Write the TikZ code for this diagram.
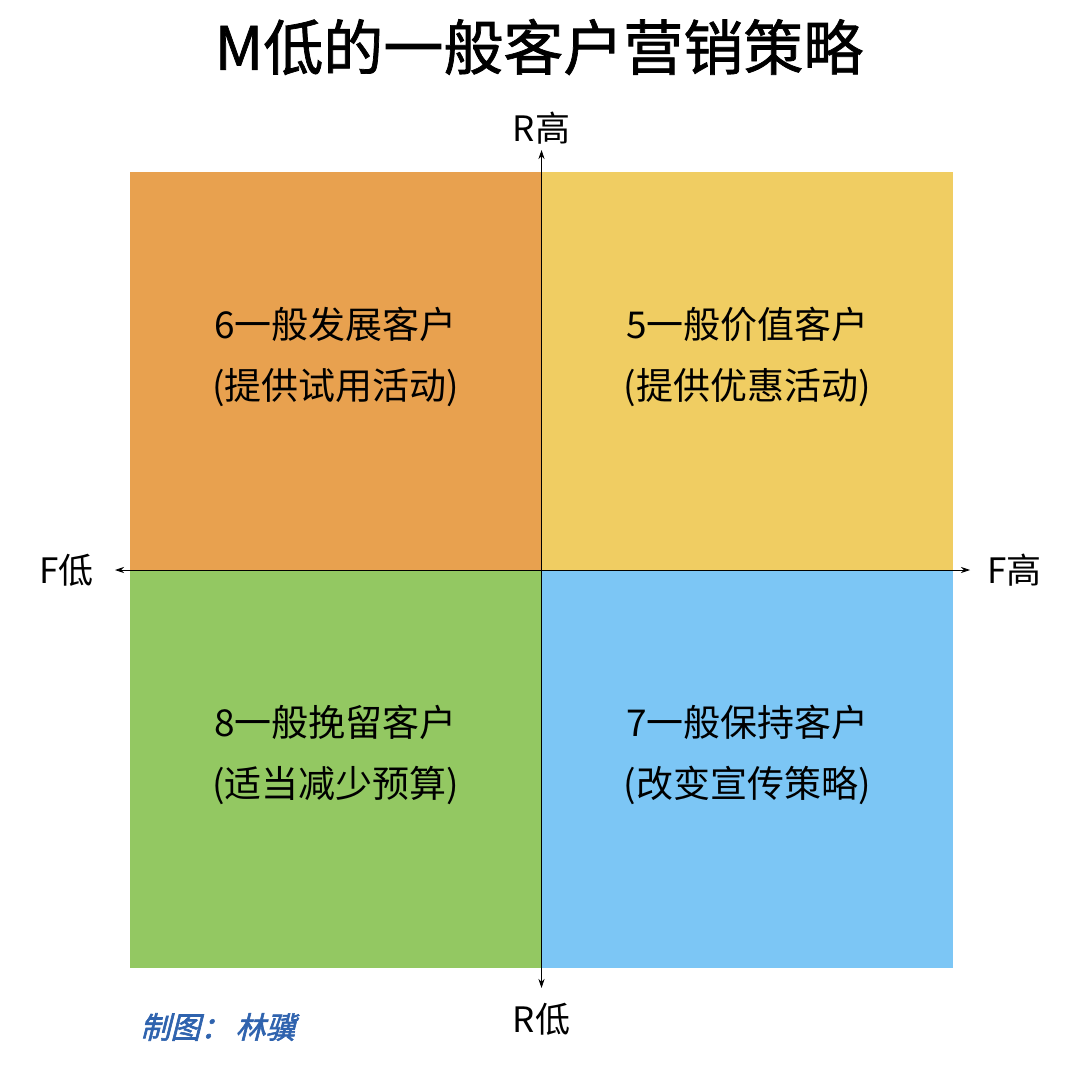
\documentclass[tikz,border=0pt]{standalone}
\usepackage{fontspec}
\newfontfamily\cjk{Noto Sans CJK SC}
\newfontfamily\cjktitle[FakeBold=1.2]{Noto Sans CJK SC}
\newfontfamily\cjksig[FakeSlant=0.25,FakeBold=2]{Noto Sans CJK SC}
\usetikzlibrary{arrows.meta, positioning}
\definecolor{qorange}{HTML}{E8A14F}
\definecolor{qyellow}{HTML}{F0CD62}
\definecolor{qgreen}{HTML}{93C862}
\definecolor{qblue}{HTML}{7CC6F5}
\definecolor{sigblue}{HTML}{2F63AE}

\begin{document}
\begin{tikzpicture}[
		x=1pt, y=-1pt,
		quad/.style={inner sep=0pt, minimum width=411.5pt, minimum height=398pt},
		qtext/.style={align=center, font=\cjk\fontsize{37}{61}\selectfont},
		lbl/.style={font=\cjk\fontsize{35}{38}\selectfont},
		axis/.style={{Stealth[length=9pt, width=6pt]}-{Stealth[length=9pt, width=6pt]}, thick},
		>=Stealth
		]
		\useasboundingbox (0,0) rectangle (1080,1078);
		% Title
		\node[font=\cjktitle\fontsize{60}{64}\selectfont] (title) at (539,47) {M低的一般客户营销策略};
		
		% Quadrants
		\coordinate (o) at (541.5,570);
		\node[quad, fill=qorange, anchor=south east] (nw) at (o) {};
		\node[quad, fill=qyellow, anchor=south west] (ne) at (o) {};
		\node[quad, fill=qgreen, anchor=north east] (sw) at (o) {};
		\node[quad, fill=qblue, anchor=north west] (se) at (o) {};
		
		% Quadrant texts
		\node[qtext] (nwt) at ([yshift=14pt]nw.center) {6一般发展客户\\(提供试用活动)};
		\node[qtext] (net) at ([yshift=14pt]ne.center) {5一般价值客户\\(提供优惠活动)};
		\node[qtext] (swt) at ([yshift=14pt]sw.center) {8一般挽留客户\\(适当减少预算)};
		\node[qtext] (set) at ([yshift=14pt]se.center) {7一般保持客户\\(改变宣传策略)};
		
		% Axes
		\coordinate (fl) at (115,570);
		\coordinate (fh) at (970,570);
		\coordinate (rh) at (541.5,150);
		\coordinate (rl) at (541.5,988);
		\draw[axis] (fl) -- (fh);
		\draw[axis] (rl) -- (rh);
		\node[lbl, left=18pt of fl] (flt) {F低};
		\node[lbl, right=14pt of fh] (fht) {F高};
		\node[lbl, above=2pt of rh] (rht) {R高};
		\node[lbl, below=12pt of rl] (rlt) {R低};
		
		% Credit
		\node[font=\cjksig\fontsize{30}{32}\selectfont, text=sigblue] (credit) at (218,1027) {制图：\,林骥};
	\end{tikzpicture}
\end{document}
